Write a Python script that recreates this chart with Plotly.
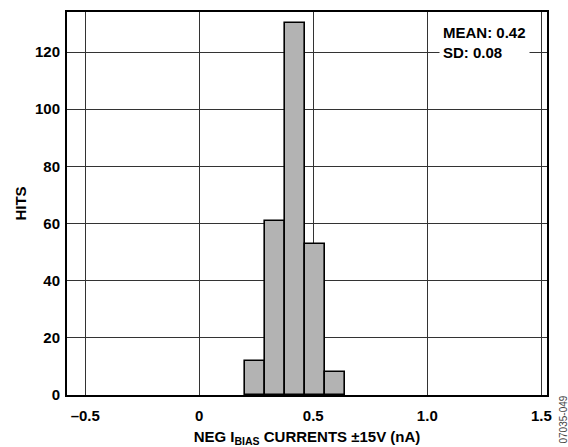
import plotly.graph_objects as go

# Histogram data (bin edges in nA, counts)
bin_start = 0.2
bin_width = 0.0875
counts = [12, 61, 130, 53, 8]
x_tick_vals = [-0.5, 0, 0.5, 1.0, 1.5]
x_tick_text = ["\u20130.5", "0", "0.5", "1.0", "1.5"]
y_tick_vals = [0, 20, 40, 60, 80, 100, 120]

centers = [bin_start + bin_width * (i + 0.5) for i in range(len(counts))]

FONT = "Liberation Sans, Arial, sans-serif"

fig = go.Figure()
fig.add_trace(go.Bar(
    x=centers, y=counts, width=[bin_width] * len(counts),
    marker=dict(color="#b3b3b3", line=dict(color="black", width=1.6)),
    showlegend=False, hoverinfo="skip",
))

fig.update_layout(
    width=568, height=447,
    margin=dict(l=67, r=21, t=12, b=52),
    paper_bgcolor="white", plot_bgcolor="white",
    font=dict(family=FONT, size=15, color="black"),
    bargap=0,
    xaxis=dict(
        range=[-0.58, 1.525], tickvals=x_tick_vals, ticktext=x_tick_text,
        showgrid=True, gridcolor="#333333", gridwidth=1.2, automargin=False,
        zeroline=False, showline=True, linecolor="black", linewidth=2, mirror=True,
        ticks="", ticklen=0, ticklabelstandoff=6,
        tickfont=dict(family=FONT, size=15, color="black", weight="bold"),
        title=dict(text="NEG I<sub>BIAS</sub> CURRENTS \u00b115V (nA)",
                   font=dict(family=FONT, size=15, color="black", weight="bold"),
                   standoff=8),
    ),
    yaxis=dict(
        range=[0, 134], tickvals=y_tick_vals,
        showgrid=True, gridcolor="#333333", gridwidth=1.2, automargin=False,
        zeroline=False, showline=True, linecolor="black", linewidth=2, mirror=True,
        ticks="", ticklen=0, ticklabelstandoff=2,
        tickfont=dict(family=FONT, size=15, color="black", weight="bold"),
        title=dict(text="HITS",
                   font=dict(family=FONT, size=15, color="black", weight="bold"),
                   standoff=5),
    ),
    annotations=[
        dict(x=1.05, y=131.2, xref="x", yref="y", xanchor="left", yanchor="top",
             text="<b>MEAN: 0.42<br>SD: 0.08</b>", showarrow=False, align="left",
             font=dict(family=FONT, size=15, color="black"),
             bgcolor="white", borderpad=3),
        dict(x=1.0, y=0.0, xref="paper", yref="paper", xanchor="left", yanchor="bottom",
             xshift=8, yshift=-51, text="07035-049", textangle=-90, showarrow=False,
             font=dict(family=FONT, size=10, color="#444444")),
    ],
)

fig.write_html("out.html")
